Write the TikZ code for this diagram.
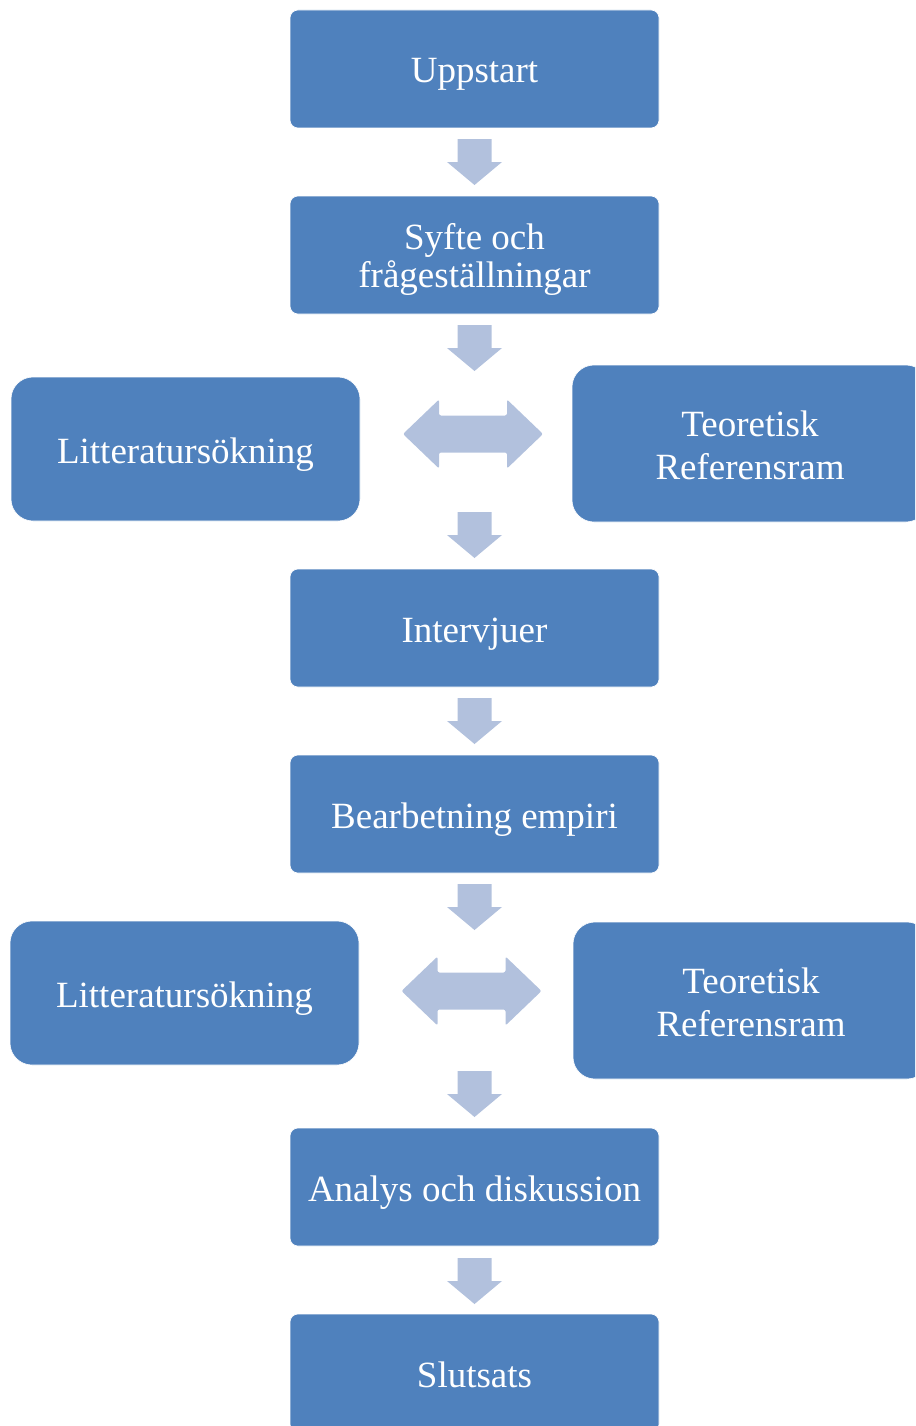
\documentclass[tikz,border=0pt]{standalone}
\usepackage{fontspec}
\setmainfont{Liberation Serif}
\usetikzlibrary{calc}
\definecolor{boxblue}{HTML}{4F81BD}
\definecolor{arrowblue}{HTML}{B2C1DD}
\tikzset{
  stepbox/.style={rectangle, fill=boxblue, draw=white, line width=0.6pt,
    text=white, align=center, inner sep=0pt, text depth=0pt, text height=28pt,
    font=\fontsize{37}{38}\selectfont},
  midbox/.style={stepbox, minimum width=369pt, minimum height=118pt, rounded corners=8pt},
  sidebox/.style={stepbox, rounded corners=22pt},
  twolines/.style={text height=#1},
  pics/downarrow/.style={code={
    \fill[arrowblue] (-17,-23) -- (17,-23) -- (17,0) -- (27.5,0) -- (0,23)
      -- (-27.5,0) -- (-17,0) -- cycle;}},
  pics/bothways/.style={code={
    \fill[arrowblue, rounded corners=2pt] (-70,0) -- (-34,-34.5) -- (-34,-18.5)
      -- (34,-18.5) -- (34,-34.5) -- (70,0) -- (34,34.5) -- (34,18.5)
      -- (-34,18.5) -- (-34,34.5) -- cycle;}}
}
\begin{document}
\begin{tikzpicture}[x=1pt, y=-1pt]
  \useasboundingbox (0,0) rectangle (915,1426);
  \clip (0,0) rectangle (915,1426);

  % main column
  \node[midbox] (up)     at (474.5,69)   {Uppstart};
  \node[midbox, twolines=64pt] (syfte) at (474.5,255) {Syfte och\\frågeställningar};
  \node[midbox] (interv) at (474.5,628)  {Intervjuer};
  \node[midbox] (bearb)  at (474.5,814)  {Bearbetning empiri};
  \node[midbox] (analys) at (474.5,1187) {Analys och diskussion};
  \node[midbox] (slut)   at (474.5,1373) {Slutsats};

  % side boxes
  \node[sidebox, minimum width=349pt, minimum height=144pt] (lit1) at (185.5,449) {Litteratursökning};
  \node[sidebox, minimum width=356pt, minimum height=157pt, twolines=72pt,
        font=\fontsize{37}{43}\selectfont] (teo1) at (750,443.5) {Teoretisk\\Referensram};
  \node[sidebox, minimum width=349pt, minimum height=144pt] (lit2) at (184.5,993) {Litteratursökning};
  \node[sidebox, minimum width=356pt, minimum height=157pt, twolines=72pt,
        font=\fontsize{37}{43}\selectfont] (teo2) at (751,1000.5) {Teoretisk\\Referensram};

  % block arrows
  \pic at (474.5,162)  {downarrow};
  \pic at (474.5,348)  {downarrow};
  \pic at (473,434)    {bothways};
  \pic at (474.5,535)  {downarrow};
  \pic at (474.5,721)  {downarrow};
  \pic at (474.5,907)  {downarrow};
  \pic at (471.5,991)  {bothways};
  \pic at (474.5,1094) {downarrow};
  \pic at (474.5,1281) {downarrow};
\end{tikzpicture}
\end{document}
